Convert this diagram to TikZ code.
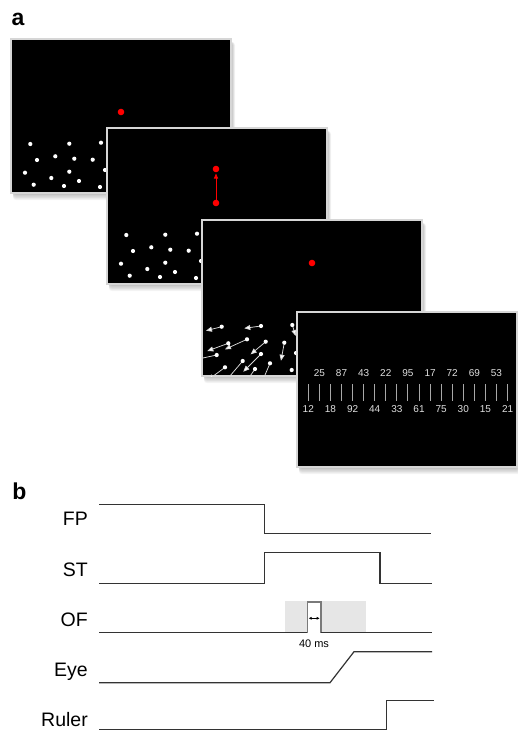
\documentclass[tikz,border=0pt]{standalone}
\usepackage{fontspec}
\setmainfont{Liberation Sans}
\usetikzlibrary{arrows.meta,calc}

\definecolor{wave}{HTML}{333333}
\definecolor{frameedge}{HTML}{D6D6D6}
\definecolor{ofbox}{HTML}{E6E6E6}
\definecolor{ofpulse}{HTML}{7A7A7A}
\definecolor{tickgrey}{HTML}{A8A8A8}
\definecolor{dotred}{HTML}{FF0000}
\definecolor{motiongrey}{HTML}{D8D8D8}

\tikzset{
  screen/.style={fill=black, draw=frameedge, line width=1.4pt},
  wavel/.style={draw=wave, line width=1.2pt, line join=miter},
  siglabel/.style={anchor=base east, font=\fontsize{19.5}{21}\selectfont, inner sep=0pt},
  panlabel/.style={font=\bfseries\fontsize{23}{25}\selectfont, inner sep=0pt},
  motion/.style={draw=motiongrey, line width=0.75pt,
    -{Triangle[length=6pt,width=5pt,fill=white]}},
  rulernum/.style={text=white!88!black, font=\fontsize{10}{11}\selectfont, inner sep=0pt},
  whitedot/.style={fill=white},
  reddot/.style={fill=dotred},
}

% soft shadow under a screen: corner (#1,#2), opposite corner (#3,#4)
\newcommand\screenshadow[4]{%
  \foreach \k in {1,...,8}{%
    \fill[black, opacity=0.035, rounded corners=3pt]
      (#1+2, #2+3) rectangle (#3+0.5*\k, #4+0.9*\k);
  }%
}

% field of white dots, relative to the screen corner
\newcommand\dotfield{%
  \foreach \dx/\dy in {19.3/107, 58.3/106.7, 90/105.7, 26/123, 44.3/119.3,
      63.3/121.7, 81.7/122.7, 14/135.7, 40.3/141, 58.3/134.7, 94/133,
      22.7/147.7, 53/149, 68/144, 89/150}{%
    \fill[whitedot] (\dx,\dy) circle (2.1);
  }%
}

\begin{document}
\begin{tikzpicture}[x=1pt, y=-1pt]
\useasboundingbox (0,0) rectangle (517,731);
\fill[white] (0,0) rectangle (517,731);

\node[panlabel] (labA) at (18,19.5) {a};
\node[panlabel] (labB) at (19.5,491) {b};

% ---- screen 1: fixation and dot field
\screenshadow{11}{39}{231}{193}
\draw[screen] (11,39) rectangle (231,193);
\begin{scope}[shift={(11,37)}]
  \dotfield
\end{scope}
\fill[reddot] (121,112) circle (3.3);

% ---- screen 2: saccade target
\screenshadow{107}{128}{327}{284}
\draw[screen] (107,128) rectangle (327,284);
\begin{scope}[shift={(107,128)}]
  \dotfield
  \coordinate (fix2) at (109,75);
  \coordinate (tgt2) at (109,41);
  \draw[dotred, line width=0.8pt, -{Triangle[length=5pt,width=4pt]}]
    (fix2) -- ($(tgt2)+(0,4.5)$);
  \fill[reddot] (fix2) circle (3.3);
  \fill[reddot] (tgt2) circle (3.3);
\end{scope}

% ---- screen 3: optic flow
\screenshadow{202}{220}{422}{376}
\draw[screen] (202,220) rectangle (422,376);
\begin{scope}
  \clip (202,220) rectangle (422,376);
  \begin{scope}[shift={(202,220)}]
    \foreach \ax/\ay/\bx/\by in {19.7/106.7/4/110.7, 59/106/42.3/108.3,
        90.3/105/93.7/116, 26.3/123.3/5.3/131, 45/119.3/23/129.3,
        63.7/121.7/48.7/134.3, 82.3/122.7/79/140.7, 14.7/135/-6/139.5,
        40.7/141/22/163, 59/134/41.3/151.7, 23/147.3/6/160,
        53/149/44/162, 68/143.3/60/162}{%
      \draw[motion] (\ax,\ay) -- (\bx,\by);
    }
    \foreach \dx/\dy in {19.7/106.7, 59/106, 90.3/105, 26.3/123.3, 45/119.3,
        63.7/121.7, 82.3/122.7, 14.7/135, 40.7/141, 59/134, 94/133,
        23/147.3, 53/149, 68/143.3, 89.7/150}{%
      \fill[whitedot] (\dx,\dy) circle (2.1);
    }
    \fill[reddot] (110,43) circle (3.3);
  \end{scope}
\end{scope}

% ---- screen 4: ruler
\screenshadow{297}{312}{517}{467}
\draw[screen] (297,312) rectangle (517,467);
\foreach \k in {0,...,18}{%
  \draw[tickgrey, line width=0.9pt] (308.3+11.07*\k,384) -- ++(0,16.7);
}
\foreach \n [count=\i] in {25,87,43,22,95,17,72,69,53}{%
  \node[rulernum] (top\i) at (308.3+11.07*\i*2-11.07,373.3) {\n};
}
\foreach \n [count=\i] in {12,18,92,44,33,61,75,30,15,21}{%
  \node[rulernum] (bot\i) at (308.3+11.07*\i*2-22.14,409.3) {\n};
}

% ---- timing diagram
\node[siglabel] (fp) at (88,525) {FP};
\node[siglabel] (st) at (88,576) {ST};
\node[siglabel] (of) at (88,626) {OF};
\node[siglabel] (eye) at (88,676) {Eye};
\node[siglabel] (ruler) at (88,726.7) {Ruler};

\draw[wavel] (99,504.3) -- (264.3,504.3) -- (264.3,533.3) -- (430.7,533.3);
\draw[wavel] (99,583.7) -- (264.3,583.7) -- (264.3,552.7) -- (380,552.7)
  -- (380,583.7) -- (432,583.7);

\fill[ofbox] (285.3,601) rectangle (366,632.7);
\draw[ofpulse, fill=white, line width=1.1pt] (307.3,632.7) -- (307.3,602)
  -- (321,602) -- (321,632.7);
\draw[wavel] (99,632.7) -- (307.3,632.7);
\draw[wavel] (321,632.7) -- (432,632.7);
\draw[black, line width=0.6pt, {Latex[length=3pt,width=3pt]}-{Latex[length=3pt,width=3pt]}]
  (308.6,618.3) -- (319.7,618.3);
\node[font=\fontsize{11}{12}\selectfont, inner sep=0pt] (dur) at (314,644) {40 ms};

\draw[wavel] (99,682.7) -- (330,682.7) -- (354,651.7) -- (432,651.7);
\draw[wavel] (99,729.7) -- (386.7,729.7) -- (386.7,700.3) -- (434,700.3);
\end{tikzpicture}
\end{document}
